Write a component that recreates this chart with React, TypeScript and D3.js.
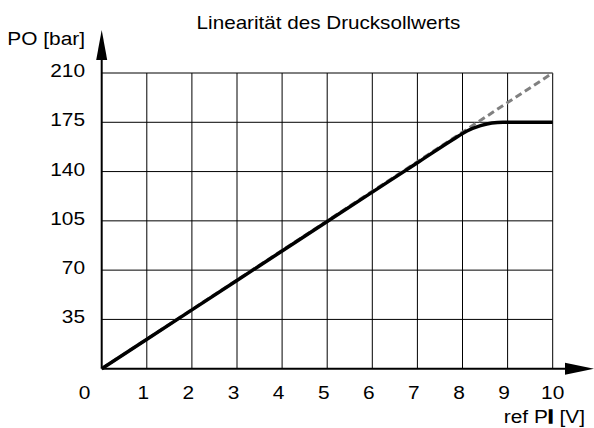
import React from "react";
import * as d3 from "d3";

const xTicks = [1, 2, 3, 4, 5, 6, 7, 8, 9, 10];
const yTicks = [35, 70, 105, 140, 175, 210];
const xLabels = ["0", "1", "2", "3", "4", "5", "6", "7", "8", "9", "10"];
const idealX = [0, 10];
const idealY = [0, 210];
const actualX = [0, 2, 4, 6, 7, 7.8, 8.1, 8.4, 8.65, 8.9, 10];
const actualY = [0, 41.8, 83.6, 125.4, 146.3, 163, 168.8, 172.6, 174.5, 175, 175];

const W = 594;
const H = 428;
const FONT = "Liberation Sans, Arial, Helvetica, sans-serif";
const SX = 1.16;

function SText({ x, y, size, anchor, sx = SX, children }: any) {
  return (
    <text
      transform={`translate(${x},${y}) scale(${sx},1)`}
      fontSize={size}
      textAnchor={anchor}
      fill="#000"
    >
      {children}
    </text>
  );
}

export default function App() {
  const x = d3.scaleLinear().domain([0, 10]).range([101.7, 552.7]);
  const y = d3.scaleLinear().domain([0, 210]).range([368.7, 73]);

  const line = d3
    .line<[number, number]>()
    .x((d) => x(d[0]))
    .y((d) => y(d[1]));
  const smooth = d3
    .line<[number, number]>()
    .x((d) => x(d[0]))
    .y((d) => y(d[1]))
    .curve(d3.curveMonotoneX);

  const ideal = idealX.map((v, i) => [v, idealY[i]] as [number, number]);
  const actual = actualX.map((v, i) => [v, actualY[i]] as [number, number]);

  const x0 = x(0);
  const y0 = y(0);

  return (
    <svg
      width={W}
      height={H}
      style={{ position: "absolute", left: 0, top: 0, background: "#fff" }}
      fontFamily={FONT}
    >
      <rect x={0} y={0} width={W} height={H} fill="#fff" />
      {/* grid */}
      {xTicks.map((t) => (
        <line key={"gx" + t} x1={x(t)} x2={x(t)} y1={y(210)} y2={y0} stroke="#000" strokeWidth={1} />
      ))}
      {yTicks.map((t) => (
        <line key={"gy" + t} x1={x0} x2={x(10)} y1={y(t)} y2={y(t)} stroke="#000" strokeWidth={1} />
      ))}
      {/* axes */}
      <line x1={x0} x2={x0} y1={y0} y2={58} stroke="#000" strokeWidth={2} />
      <line x1={x0} x2={567} y1={y0} y2={y0} stroke="#000" strokeWidth={2} />
      <path d={`M${x0 - 5.5},60 L${x0},30 L${x0 + 5.5},60 Z`} fill="#000" />
      <path d={`M565,${y0 - 6} L594,${y0} L565,${y0 + 6} Z`} fill="#000" />
      {/* lines */}
      <path d={line(ideal) || ""} fill="none" stroke="#808080" strokeWidth={3} strokeDasharray="7,4" />
      <path d={smooth(actual) || ""} fill="none" stroke="#000" strokeWidth={3.5} />
      {/* y tick labels */}
      {yTicks.map((t) => (
        <SText key={"ly" + t} x={85} y={y(t) + 4} size={18} anchor="end">
          {t}
        </SText>
      ))}
      {/* x tick labels */}
      {xLabels.map((l, i) => (
        <SText
          key={"lx" + i}
          x={i === 0 ? 84.5 : x(i) - (l.length > 1 ? 0 : 3.5)}
          y={399}
          size={18}
          anchor="middle"
        >
          {l}
        </SText>
      ))}
      <SText x={85} y={44.5} size={18} anchor="end">PO [bar]</SText>
      <SText x={585} y={423} size={18} anchor="end">
        ref P<tspan stroke="#000" strokeWidth={1.6}>I</tspan> [V]
      </SText>
      <SText x={328.5} y={29} size={17.5} anchor="middle" sx={1.18}>
        Linearität des Drucksollwerts
      </SText>
    </svg>
  );
}
